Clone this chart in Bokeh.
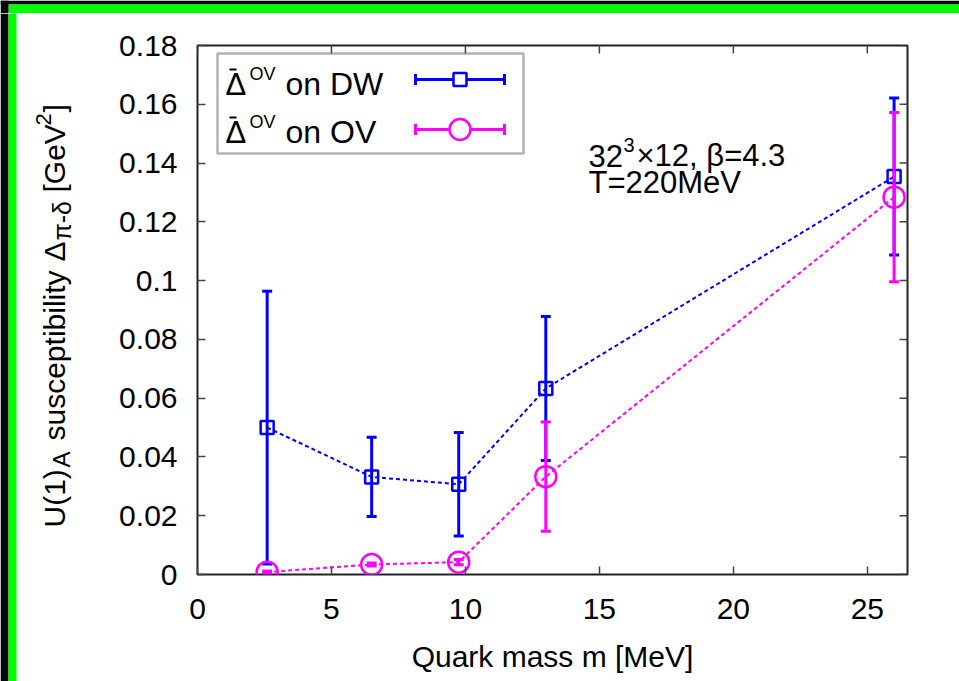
import math
from bokeh.plotting import figure
from bokeh.layouts import column, row
from bokeh.models import (Range1d, FixedTicker, CustomJSTickFormatter, Label,
                          BoxAnnotation, ColumnDataSource)
from bokeh.core.properties import value
from bokeh.embed import file_html
from bokeh.resources import INLINE

# ---------------- data ----------------
quark_mass = [2.6, 6.5, 9.75, 13.0, 26.0]
dw_value = [0.0500, 0.0332, 0.0307, 0.0633, 0.1354]
dw_error = [0.0464, 0.0135, 0.0176, 0.0245, 0.0267]
ov_value = [0.0008, 0.0034, 0.0042, 0.0333, 0.1284]
ov_error = [0.0004, 0.0005, 0.0009, 0.0186, 0.0288]
x_tick_values = [0, 5, 10, 15, 20, 25]
y_tick_values = [0.0, 0.02, 0.04, 0.06, 0.08, 0.10, 0.12, 0.14, 0.16, 0.18]
x_limits = (0, 26.5)
y_limits = (0, 0.18)
x_label = "Quark mass m [MeV]"
series_suffix = ["on DW", "on OV"]
info_line1 = ["32", "3", "\u00d712, \u03b2=4.3"]
info_line2 = "T=220MeV"
ylab_texts = ["U(1)", "A", "susceptibility", "\u0394", "\u03c0-\u03b4", "[GeV", "2", "]"]

# ---------------- styling / layout ----------------
BLUE = "#0000ff"
MAGENTA = "#ff00ff"
GREEN = "#00ff00"
BLACK_BG = "#05080a"
FONT = "Liberation Sans"
FS = "30px"
TOTAL_W, TOTAL_H = 959, 681
TOP_H = 13          # top decoration strip
LEFT_W = 80         # left strip holding the rotated y label
MAIN_W = TOTAL_W - LEFT_W
MAIN_H = TOTAL_H - TOP_H
# frame position in page pixels
PF_L, PF_T, PF_R, PF_B = 197, 45, 907, 574


def sx(px):   # page px -> frame screen x
    return px - PF_L


def sy(py):   # page px -> frame screen y (from bottom)
    return PF_B - py


def xd(px):   # page px -> data x (legend sample only)
    return x_limits[0] + (px - PF_L) / (PF_R - PF_L) * (x_limits[1] - x_limits[0])


def yd(py):
    return y_limits[0] + (PF_B - py) / (PF_B - PF_T) * (y_limits[1] - y_limits[0])


def label(px, py, text, size):
    return Label(x=sx(px), y=sy(py), x_units="screen", y_units="screen",
                 text=text, text_font=FONT, text_font_size=size, text_color="black",
                 text_baseline="bottom", text_align="left")


# ---------------- main figure ----------------
p = figure(width=MAIN_W, height=MAIN_H, output_backend="svg", toolbar_location=None,
           x_range=Range1d(*x_limits), y_range=Range1d(*y_limits),
           min_border_left=PF_L - LEFT_W, min_border_right=TOTAL_W - PF_R,
           min_border_top=PF_T - TOP_H, min_border_bottom=TOTAL_H - PF_B,
           background_fill_color="white", border_fill_color="white",
           frame_align=False)
p.grid.visible = False
p.outline_line_color = "#222222"
p.outline_line_width = 2

fmt = CustomJSTickFormatter(code="""
    let s = tick.toFixed(2);
    s = s.replace(/0+$/, '').replace(/\\.$/, '');
    return s;
""")

for ax in (p.xaxis[0], p.yaxis[0]):
    ax.axis_line_color = None
    ax.major_tick_in = 8
    ax.major_tick_out = 0
    ax.minor_tick_line_color = None
    ax.major_tick_line_color = "#444444"
    ax.major_tick_line_width = 1.5
    ax.major_label_text_font = FONT
    ax.major_label_text_color = "black"
    ax.major_label_text_font_size = FS

p.xaxis.ticker = FixedTicker(ticks=x_tick_values)
p.yaxis.ticker = FixedTicker(ticks=y_tick_values)
p.yaxis.formatter = fmt
p.xaxis.major_label_standoff = 24
p.yaxis.major_label_standoff = 20
p.xaxis.axis_label = x_label
p.xaxis.axis_label_text_font = FONT
p.xaxis.axis_label_text_font_size = FS
p.xaxis.axis_label_text_font_style = "normal"
p.xaxis.axis_label_text_color = "black"
p.xaxis.axis_label_standoff = 18

# mirror ticks on top and right (half of each dash is clipped by the frame)
p.scatter(x_tick_values, [y_limits[1]] * len(x_tick_values), marker="dash",
          angle=math.pi / 2, size=16, line_color="#444444", line_width=1.5)
p.scatter([x_limits[1]] * len(y_tick_values), y_tick_values, marker="dash",
          size=16, line_color="#444444", line_width=1.5)


# ---------------- series ----------------
def draw_series(vals, errs, color, marker, size):
    lo = [v - e for v, e in zip(vals, errs)]
    hi = [v + e for v, e in zip(vals, errs)]
    p.segment(quark_mass, lo, quark_mass, hi, line_color=color, line_width=3)
    p.scatter(quark_mass, hi, marker="dash", size=10, line_color=color, line_width=3)
    p.scatter(quark_mass, lo, marker="dash", size=10, line_color=color, line_width=3)
    p.line(quark_mass, vals, line_color=color, line_width=2, line_dash="4 3")
    p.scatter(quark_mass, vals, marker=marker, size=size, fill_color=None,
              line_color=color, line_width=2.5)


draw_series(dw_value, dw_error, BLUE, "square", 13)
draw_series(ov_value, ov_error, MAGENTA, "circle", 21)

# ---------------- legend ----------------
p.add_layout(BoxAnnotation(left=sx(217), right=sx(523), top=sy(53), bottom=sy(153),
                           left_units="screen", right_units="screen",
                           top_units="screen", bottom_units="screen",
                           fill_color="white", fill_alpha=1.0,
                           line_color="black", line_width=2.5, level="underlay"))

for i, (color, marker, size, row_y) in enumerate([(BLUE, "square", 13, 79),
                                                   (MAGENTA, "circle", 21, 129)]):
    x0, x1, xm, y0 = xd(415), xd(504), xd(459.5), yd(row_y)
    p.segment([x0], [y0], [x1], [y0], line_color=color, line_width=3)
    p.scatter([x0, x1], [y0, y0], marker="dash", angle=math.pi / 2, size=11,
              line_color=color, line_width=3)
    p.scatter([xm], [y0], marker=marker, size=size, fill_color="white",
              line_color=color, line_width=2.5)
    base = 95 + 48 * i
    # bar over Delta
    p.segment([xd(229)], [yd(base - 26)], [xd(236)], [yd(base - 26)],
              line_color="black", line_width=2)
    p.add_layout(label(225, base + 6, "\u0394", "31px"))
    p.add_layout(label(249, base - 12, "OV", "18px"))
    p.add_layout(label(285, base + 6, series_suffix[i], "32px"))

# ---------------- info text ----------------
p.add_layout(label(588, 166, info_line1[0], "31px"))
p.add_layout(label(623, 151, info_line1[1], "20px"))
p.add_layout(label(636, 172, info_line1[2], "31px"))
p.add_layout(label(588, 199, info_line2, "31px"))

# ---------------- left strip: rotated y label ----------------
pl = figure(width=LEFT_W, height=MAIN_H, output_backend="svg", toolbar_location=None,
            x_range=Range1d(0, LEFT_W), y_range=Range1d(0, MAIN_H),
            x_axis_type=None, y_axis_type=None, min_border=0,
            background_fill_color="white", border_fill_color="white",
            frame_align=False)
pl.grid.visible = False
pl.outline_line_color = None
pl.quad(left=[0], right=[8], bottom=[0], top=[MAIN_H], fill_color=BLACK_BG, line_color=None)
pl.quad(left=[8], right=[16], bottom=[0], top=[MAIN_H], fill_color=GREEN, line_color=None)

# (start page-y, font px, baseline page-x) per piece
ylab_layout = [(527, 30, 54), (467, 24, 61), (440, 30, 54), (261, 30, 54),
               (240, 25, 61), (192, 30, 54), (125, 22, 43), (112, 30, 54)]
ysrc = ColumnDataSource(dict(
    x=[bx for (_, _, bx) in ylab_layout],
    y=[TOTAL_H - py for (py, _, _) in ylab_layout],
    text=ylab_texts,
    size=[f"{s}px" for (_, s, _) in ylab_layout],
))
pl.text(x="x", y="y", text="text", source=ysrc, angle=math.pi / 2,
        text_font=value(FONT), text_font_size="size", text_color="black",
        text_align="left", text_baseline="alphabetic")

# ---------------- top strip decoration ----------------
pt = figure(width=TOTAL_W, height=TOP_H, output_backend="svg", toolbar_location=None,
            x_range=Range1d(0, TOTAL_W), y_range=Range1d(0, TOP_H),
            x_axis_type=None, y_axis_type=None, min_border=0,
            background_fill_color="white", border_fill_color="white",
            frame_align=False)
pt.grid.visible = False
pt.outline_line_color = None
pt.quad(left=[0], right=[TOTAL_W], bottom=[TOP_H - 4], top=[TOP_H], fill_color=BLACK_BG, line_color=None)
pt.quad(left=[8], right=[TOTAL_W], bottom=[0], top=[TOP_H - 4], fill_color=GREEN, line_color=None)
pt.quad(left=[0], right=[8], bottom=[0], top=[TOP_H], fill_color=BLACK_BG, line_color=None)

layout = column(pt, row(pl, p, spacing=0), spacing=0)
open("out.html", "w").write(file_html(layout, INLINE))
